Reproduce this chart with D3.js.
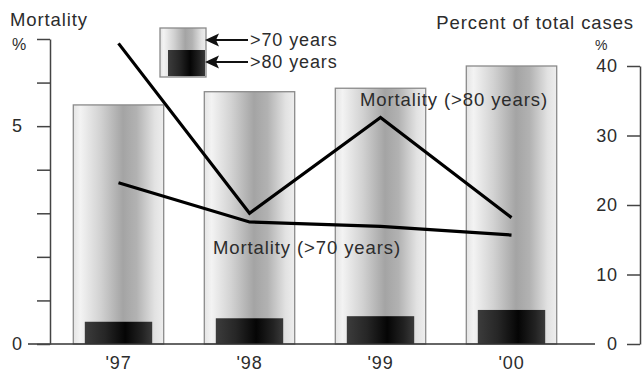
<!DOCTYPE html>
<html>
<head>
<meta charset="utf-8">
<script src="https://cdn.jsdelivr.net/npm/d3@7"></script>
<style>
  html, body { margin: 0; padding: 0; background: #fff; }
  svg { display: block; }
  text { font-family: "Liberation Sans", Arial, Helvetica, sans-serif; fill: #2c2c2c; letter-spacing: 0.9px; }
</style>
</head>
<body>
<svg id="chart" width="642" height="377"></svg>
<script>
// Years on the x axis
const years = ["'97", "'98", "'99", "'00"];
// Percent of total cases (right axis)
const pctOver70 = [34.4, 36.3, 36.8, 40.0];
const pctOver80 = [3.2, 3.7, 4.0, 4.9];
// Mortality in % (left axis)
const mortOver80 = [6.9, 3.0, 5.2, 2.9];
const mortOver70 = [3.7, 2.8, 2.7, 2.5];
// Axis ticks
const leftTicks = [0, 1, 2, 3, 4, 5, 6, 7];
const leftTickLabels = [0, 5];
const rightTicks = [0, 10, 20, 30, 40];

const svg = d3.select("#chart");
const baseY = 344;

const x = d3.scaleBand().domain(years).range([53, 577]).paddingInner(0.31).paddingOuter(0.155);
const yL = d3.scaleLinear().domain([0, 7]).range([baseY, 39]);
const yR = d3.scaleLinear().domain([0, 40]).range([baseY, 66]);

// Gradients: cylinder-like shading for the bars
const defs = svg.append("defs");
const gLight = defs.append("linearGradient").attr("id", "gLight").attr("x1", "0").attr("x2", "1").attr("y1", "0").attr("y2", "0");
[[0, "#e4e4e4"], [0.08, "#f3f3f3"], [0.3, "#d2d2d2"], [0.55, "#a4a4a4"], [0.7, "#b2b2b2"], [0.9, "#e2e2e2"], [1, "#eeeeee"]]
  .forEach(([o, c]) => gLight.append("stop").attr("offset", o).attr("stop-color", c));
const gDark = defs.append("linearGradient").attr("id", "gDark").attr("x1", "0").attr("x2", "1").attr("y1", "0").attr("y2", "0");
[[0, "#3c3c3c"], [0.3, "#262626"], [0.6, "#050505"], [0.85, "#222"], [1, "#3a3a3a"]]
  .forEach(([o, c]) => gDark.append("stop").attr("offset", o).attr("stop-color", c));

// >70 years bars
const rows = years.map((y, i) => ({ y, p70: pctOver70[i], p80: pctOver80[i], m80: mortOver80[i], m70: mortOver70[i] }));
const darkInset = 11.5;

svg.append("g").selectAll("rect").data(rows).join("rect")
  .attr("x", d => x(d.y))
  .attr("y", d => yR(d.p70))
  .attr("width", x.bandwidth())
  .attr("height", d => baseY - yR(d.p70))
  .attr("fill", "url(#gLight)")
  .attr("stroke", "#8a8a8a")
  .attr("stroke-width", 1.3);

// >80 years bars
svg.append("g").selectAll("rect").data(rows).join("rect")
  .attr("x", d => x(d.y) + darkInset)
  .attr("y", d => yR(d.p80))
  .attr("width", x.bandwidth() - 2 * darkInset)
  .attr("height", d => baseY - yR(d.p80))
  .attr("fill", "url(#gDark)");

// Baseline
svg.append("line").attr("x1", 28).attr("x2", 595).attr("y1", baseY).attr("y2", baseY)
  .attr("stroke", "#333").attr("stroke-width", 1.5);

// Left axis
const axL = svg.append("g").attr("transform", "translate(50,0)")
  .call(d3.axisLeft(yL).tickValues(leftTicks).tickSize(13).tickSizeOuter(0).tickPadding(14)
    .tickFormat(d => leftTickLabels.includes(d) ? d : ""));
// Right axis
const axR = svg.append("g").attr("transform", "translate(640,0)")
  .call(d3.axisLeft(yR).tickValues(rightTicks).tickSize(13).tickSizeOuter(0).tickPadding(9));
[axL, axR].forEach(a => {
  a.selectAll("path, line").attr("stroke", "#444").attr("stroke-width", 1.5);
  a.selectAll("text").attr("font-size", 18).attr("font-family", null).attr("fill", "#2c2c2c");
});

// Mortality lines
const lineGen = key => d3.line().x(d => x(d.y) + x.bandwidth() / 2).y(d => yL(d[key]));
["m80", "m70"].forEach(k => {
  svg.append("path").datum(rows).attr("d", lineGen(k))
    .attr("fill", "none").attr("stroke", "#000").attr("stroke-width", 3.2)
    .attr("stroke-linejoin", "miter");
});

// Year labels
svg.append("g").selectAll("text").data(years).join("text")
  .attr("x", d => x(d) + x.bandwidth() / 2)
  .attr("y", 369)
  .attr("text-anchor", "middle")
  .attr("font-size", 18)
  .text(d => d);

// Axis titles
svg.append("text").attr("x", 10).attr("y", 26).attr("font-size", 18.5).text("Mortality");
svg.append("text").attr("x", 12).attr("y", 50).attr("font-size", 16).text("%");
svg.append("text").attr("x", 634).attr("y", 29).attr("text-anchor", "end").attr("font-size", 18.5).text("Percent of total cases");
svg.append("text").attr("x", 595).attr("y", 50).attr("font-size", 14).text("%");

// Line labels
svg.append("text").attr("x", 360).attr("y", 106).attr("font-size", 18.5).text("Mortality (>80 years)");
svg.append("text").attr("x", 213).attr("y", 254).attr("font-size", 18.5).text("Mortality (>70 years)");

// Legend
const lg = svg.append("g");
lg.append("rect").attr("x", 160).attr("y", 28).attr("width", 46).attr("height", 49)
  .attr("fill", "url(#gLight)").attr("stroke", "#8a8a8a").attr("stroke-width", 1.3);
lg.append("rect").attr("x", 168).attr("y", 50).attr("width", 37).attr("height", 26)
  .attr("fill", "url(#gDark)");
const legendItems = [">70 years", ">80 years"];
legendItems.forEach((t, i) => {
  const cy = 40 + i * 22;
  lg.append("line").attr("x1", 216).attr("x2", 248).attr("y1", cy).attr("y2", cy)
    .attr("stroke", "#111").attr("stroke-width", 2);
  lg.append("path").attr("d", `M205,${cy} L219,${cy - 6.5} L216,${cy} L219,${cy + 6.5} Z`).attr("fill", "#111");
  lg.append("text").attr("x", 250).attr("y", cy + 6).attr("font-size", 18).text(t);
});
</script>
</body>
</html>
